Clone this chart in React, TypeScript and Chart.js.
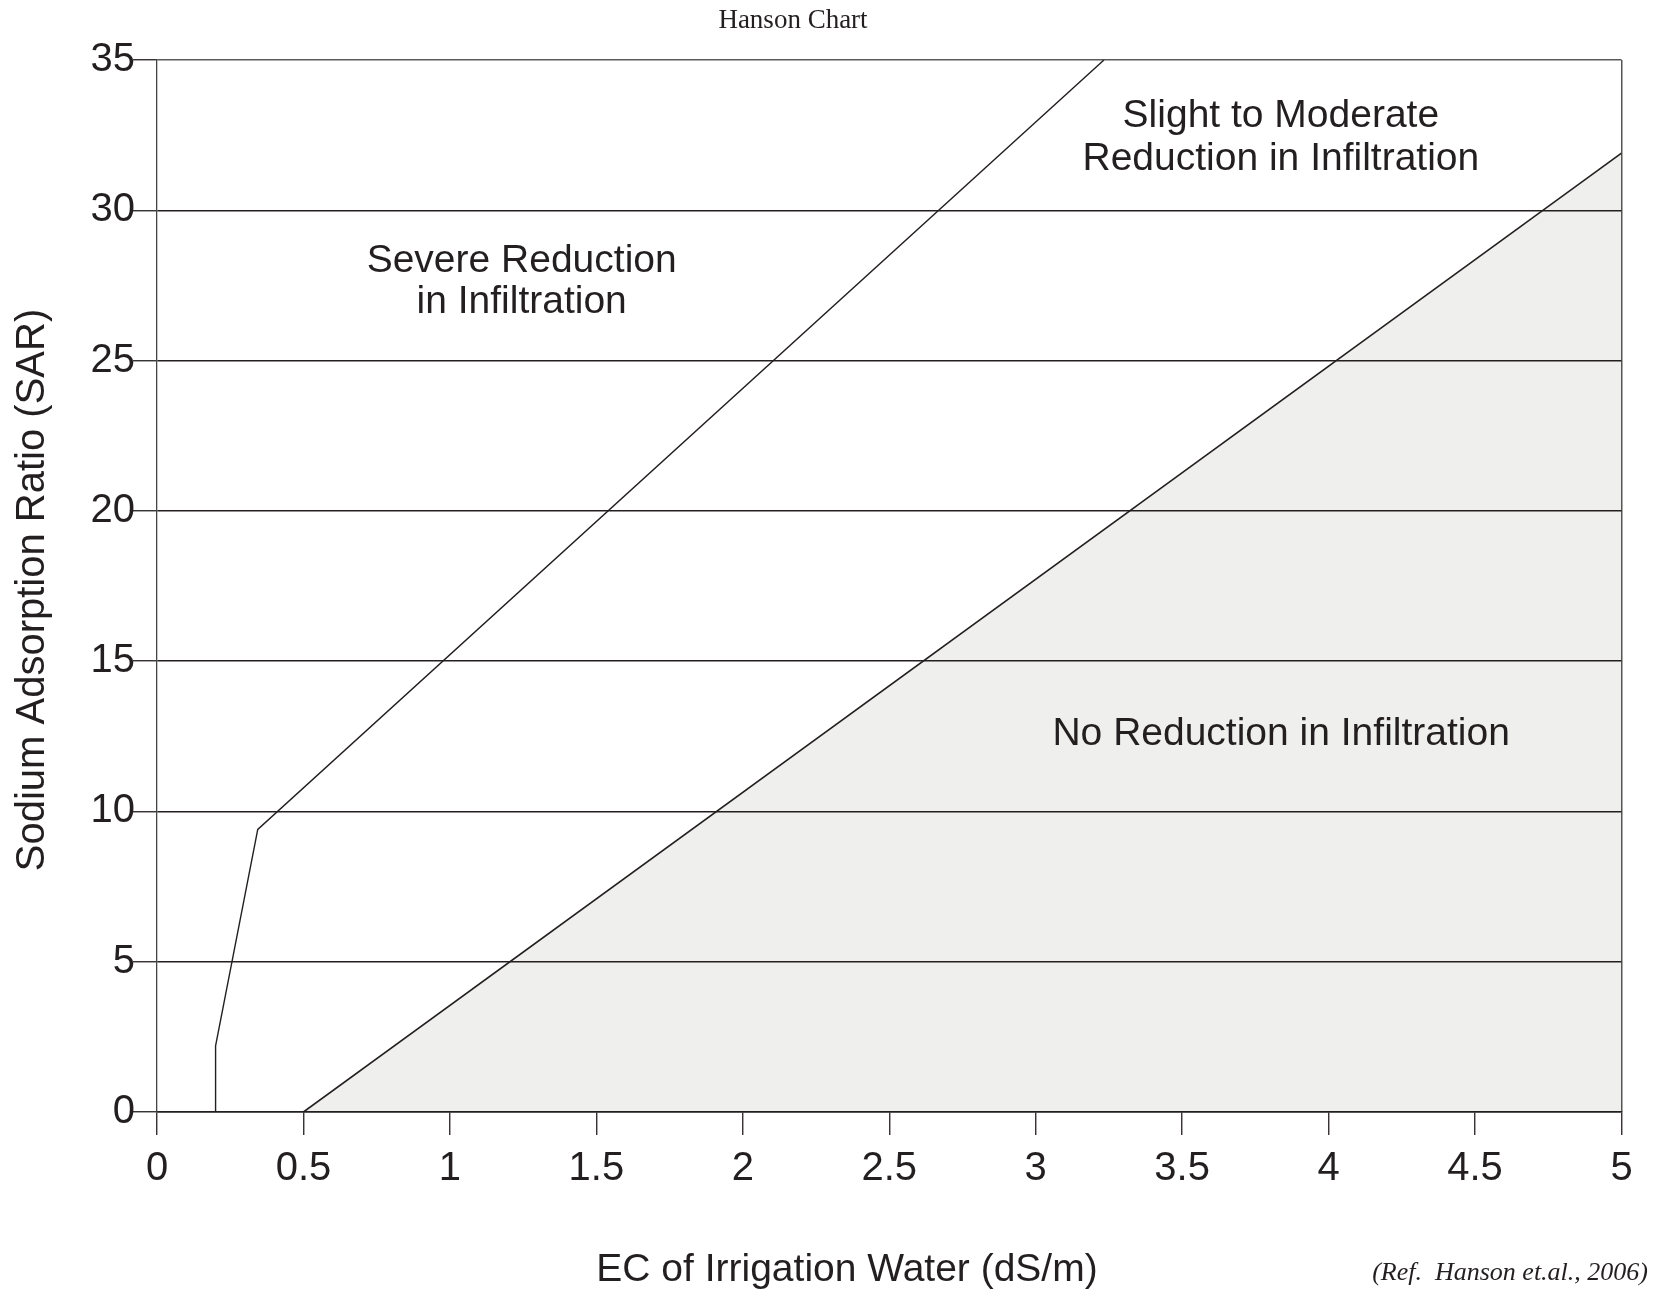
import React, { useEffect, useRef } from 'react';
import { Chart, registerables } from 'chart.js';

Chart.register(...registerables);

// ---- data ----
const X_TICKS = [0, 0.5, 1, 1.5, 2, 2.5, 3, 3.5, 4, 4.5, 5];
const Y_TICKS = [0, 5, 10, 15, 20, 25, 30, 35];

// boundary between "Severe" and "Slight to Moderate"
const SEVERE_EC = [0.2, 0.2, 0.344, 3.233];
const SEVERE_SAR = [0, 2.2, 9.4, 35];

// boundary between "Slight to Moderate" and "No Reduction"
const NONE_EC = [0.5, 5];
const NONE_SAR = [0, 31.9];

const TITLE = 'Hanson Chart';
const X_TITLE = 'EC of Irrigation Water (dS/m)';
const Y_TITLE = 'Sodium Adsorption Ratio (SAR)';
const REF_TEXT = '(Ref.  Hanson et.al., 2006)';

const ZONE_TEXT = [
  ['Severe Reduction', 'in Infiltration'],
  ['Slight to Moderate', 'Reduction in Infiltration'],
  ['No Reduction in Infiltration'],
];
// anchor (EC, SAR baseline per line) in data units
const ZONE_EC = [1.245, 3.837, 3.838];
const ZONE_SAR = [[27.95, 26.58], [32.78, 31.34], [12.21]];

const INK = '#231f20';
const SANS = '"Liberation Sans", Arial, sans-serif';
const SERIF = '"Liberation Serif", "Times New Roman", serif';

const textPlugin = {
  id: 'hansonText',
  afterDraw(chart: any) {
    const { ctx } = chart;
    const xs = chart.scales.x;
    const ys = chart.scales.y;
    ctx.save();
    ctx.fillStyle = INK;
    // title
    ctx.textAlign = 'center';
    ctx.textBaseline = 'alphabetic';
    ctx.font = `27px ${SERIF}`;
    ctx.fillText(TITLE, 793, 28);
    // zone labels
    ctx.font = `39px ${SANS}`;
    ZONE_TEXT.forEach((lines, i) => {
      lines.forEach((t, j) => {
        ctx.fillText(t, xs.getPixelForValue(ZONE_EC[i]), ys.getPixelForValue(ZONE_SAR[i][j]));
      });
    });
    // x axis title
    ctx.font = `39px ${SANS}`;
    ctx.fillText(X_TITLE, 847, 1281);
    // y axis title
    ctx.save();
    ctx.translate(33, 590);
    ctx.rotate(-Math.PI / 2);
    ctx.textBaseline = 'middle';
    ctx.font = `40px ${SANS}`;
    ctx.fillText(Y_TITLE, 0, 0);
    ctx.restore();
    // reference
    ctx.font = `italic 26px ${SERIF}`;
    ctx.textAlign = 'right';
    ctx.fillText(REF_TEXT, 1648, 1280);
    ctx.restore();
  },
};

export default function App() {
  const ref = useRef<HTMLCanvasElement | null>(null);

  useEffect(() => {
    document.body.style.margin = '0';
    document.body.style.overflow = 'hidden';
    const canvas = ref.current;
    if (!canvas) return;
    const chart = new Chart(canvas, {
      type: 'scatter',
      data: {
        datasets: [
          {
            label: 'Severe boundary',
            data: SEVERE_EC.map((x, i) => ({ x, y: SEVERE_SAR[i] })),
            showLine: true,
            borderColor: INK,
            borderWidth: 1.4,
            pointRadius: 0,
            fill: false,
          },
          {
            label: 'No reduction boundary',
            data: NONE_EC.map((x, i) => ({ x, y: NONE_SAR[i] })),
            showLine: true,
            borderColor: INK,
            borderWidth: 1.6,
            pointRadius: 0,
            fill: 'origin',
            backgroundColor: '#efefed',
          },
        ],
      },
      options: {
        responsive: false,
        animation: false,
        layout: { padding: { top: 60, left: 0, right: 43.5, bottom: 0 } },
        plugins: {
          legend: { display: false },
          tooltip: { enabled: false },
          filler: { drawTime: 'beforeDraw' },
          title: { display: false },
        },
        scales: {
          x: {
            type: 'linear',
            min: 0,
            max: 5,
            afterFit: (s: any) => { s.height = 179; },
            afterBuildTicks: (s: any) => { s.ticks = X_TICKS.map((v) => ({ value: v })); },
            ticks: {
              color: INK,
              font: { family: SANS, size: 40 },
              padding: 10,
              maxRotation: 0,
              autoSkip: false,
              callback: (v: any) => String(v),
            },
            grid: {
              color: (c: any) => (c.tick && c.tick.value === 5 ? '#555' : 'rgba(0,0,0,0)'),
              lineWidth: 1.5,
              drawTicks: true,
              tickLength: 23,
              tickColor: INK,
              tickWidth: 1.3,
            },
            border: { display: true, color: INK, width: 1.4 },
          },
          y: {
            type: 'linear',
            min: 0,
            max: 35,
            afterFit: (s: any) => { s.width = 157; },
            afterBuildTicks: (s: any) => { s.ticks = Y_TICKS.map((v) => ({ value: v })); },
            ticks: {
              color: INK,
              font: { family: SANS, size: 40 },
              padding: -2,
              autoSkip: false,
              callback: (v: any) => String(v),
            },
            grid: {
              color: (c: any) => (c.tick && c.tick.value === 35 ? '#5a5a5a' : INK),
              lineWidth: 1.5,
              drawTicks: true,
              tickLength: 24,
              tickColor: INK,
              tickWidth: 1.3,
            },
            border: { display: true, color: '#444', width: 1.3 },
          },
        },
      },
      plugins: [textPlugin],
    } as any);
    return () => chart.destroy();
  }, []);

  return <canvas ref={ref} width={1665} height={1291} style={{ display: 'block' }} />;
}
